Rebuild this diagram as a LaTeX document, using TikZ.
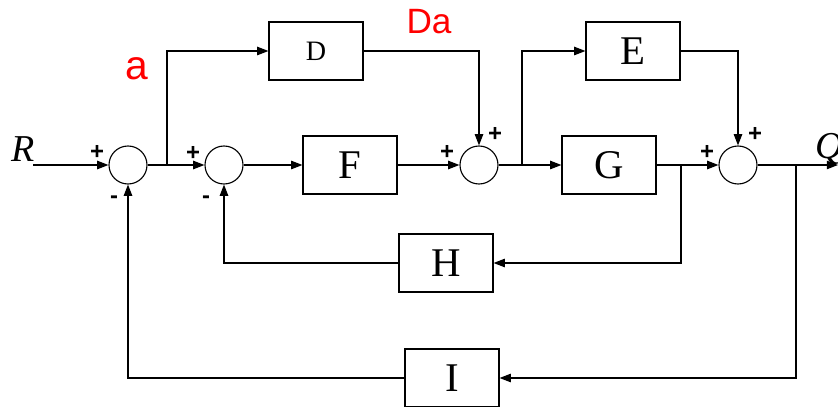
\documentclass[tikz,border=0pt]{standalone}
\usepackage{fontspec}
\setmainfont{Liberation Serif}
\newfontfamily\arial{Liberation Sans}
\usepackage{tikz}
\usetikzlibrary{arrows.meta}
\definecolor{SigRed}{RGB}{255,0,0}

\begin{document}
\begin{tikzpicture}[x=0.025cm, y=-0.025cm,
          blk/.style={rectangle, draw, line width=0.8pt, minimum width=2.35cm,
                      minimum height=1.45cm, inner sep=0pt, font=\fontsize{29}{29}\selectfont},
          sum/.style={circle, draw, line width=0.8pt, minimum size=0.95cm, inner sep=0pt},
          arr/.style={-{Triangle[length=8pt, width=6pt]}, line width=0.8pt},
          ln/.style={line width=0.8pt},
          sgn/.style={font=\arial\bfseries\fontsize{17}{17}\selectfont, inner sep=0pt},
          sig/.style={font=\arial\fontsize{25}{25}\selectfont, text=SigRed, inner sep=0pt},
          var/.style={font=\itshape\fontsize{27}{27}\selectfont, inner sep=0pt}
        ]
        \useasboundingbox (0,0) rectangle (838,407);

        % summing points
        \node[sum] (s1) at (128,165) {};
        \node[sum] (s2) at (224,165) {};
        \node[sum] (s3) at (479,165) {};
        \node[sum] (s4) at (738,165) {};

        % blocks
        \node[blk, font=\fontsize{20}{20}\selectfont] (D) at (316,51) {D};
        \node[blk] (E) at (633,51)  {E};
        \node[blk] (F) at (350,165) {F};
        \node[blk] (G) at (609,165) {G};
        \node[blk] (H) at (446,263) {H};
        \node[blk] (I) at (452,378) {I};

        % branch points and ends
        \coordinate (in)  at (33,165);
        \coordinate (out) at (838,165);
        \coordinate (b1)  at (167,165);
        \coordinate (b3)  at (522,165);
        \coordinate (b4)  at (681,165);
        \coordinate (b5)  at (796,165);

        % forward path
        \draw[arr] (in)      -- (s1.west);
        \draw[ln]  (s1.east) -- (b1);
        \draw[arr] (b1)      -- (s2.west);
        \draw[arr] (s2.east) -- (F.west);
        \draw[arr] (F.east)  -- (s3.west);
        \draw[ln]  (s3.east) -- (b3);
        \draw[arr] (b3)      -- (G.west);
        \draw[ln]  (G.east)  -- (b4);
        \draw[arr] (b4)      -- (s4.west);
        \draw[arr] (s4.east) -- (out);

        % feed forward
        \draw[arr] (b1)     |- (D.west);
        \draw[arr] (D.east) -| (s3.north);
        \draw[arr] (b3)     |- (E.west);
        \draw[arr] (E.east) -| (s4.north);

        % feedback
        \draw[arr] (b4)     |- (H.east);
        \draw[arr] (H.west) -| (s2.south);
        \draw[arr] (b5)     |- (I.east);
        \draw[arr] (I.west) -| (s1.south);

        % signs
        \node[sgn] (p1) at (97,152)  {+};
        \node[sgn] (m1) at (114,200) {-};
        \node[sgn] (p2) at (193,153) {+};
        \node[sgn] (m2) at (206,200) {-};
        \node[sgn] (p3) at (447,152) {+};
        \node[sgn] (p4) at (495,134) {+};
        \node[sgn] (p5) at (707,152) {+};
        \node[sgn] (p6) at (755,134) {+};

        % labels
        \node[var] (R)  at (23,149)  {R};
        \node[var] (Q)  at (829,149) {Q};
        \node[sig, font=\arial\fontsize{29}{29}\selectfont] (la) at (137,69) {a};
        \node[sig] (lD) at (429,22)  {Da};
      \end{tikzpicture}
\end{document}
